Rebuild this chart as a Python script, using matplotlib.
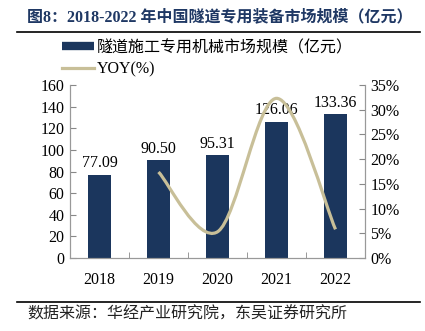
import matplotlib
matplotlib.use("Agg")
import matplotlib.pyplot as plt
from matplotlib.path import Path
from matplotlib.patches import PathPatch
from matplotlib.lines import Line2D
import numpy as np

plt.rcParams['font.family'] = ['Liberation Serif', 'Noto Sans CJK SC', 'DejaVu Sans']

years = ["2018", "2019", "2020", "2021", "2022"]
market = [77.09, 90.50, 95.31, 126.06, 133.36]
yoy_years = ["2019", "2020", "2021", "2022"]
yoy = [17.4, 5.3, 32.3, 5.8]

BAR = "#1b365d"
LINE = "#c8bf98"
TITLE = "#1f3864"
FS = 11.5

W, H = 425, 331
fig = plt.figure(figsize=(W / 100, H / 100), dpi=100)
ax = fig.add_axes([70 / W, 1 - 258 / H, 295 / W, 173 / H])
ax2 = ax.twinx()

x = np.arange(len(years))
ax.bar(x, market, width=0.4, color=BAR, zorder=2)
for xi, v in zip(x, market):
    ax.text(xi, v + 3, f"{v:.2f}", ha="center", va="bottom", fontsize=FS)

ax.set_xlim(-0.5, len(years) - 0.5)
ax.set_ylim(0, 160)
ax.set_yticks(range(0, 161, 20))
ax.set_xticks(x)
ax.set_xticklabels(years, fontsize=FS)
ax.set_xticks(np.arange(0.5, len(years) - 1, 1), minor=True)
ax.tick_params(axis="x", which="major", length=0, pad=10)
ax.tick_params(axis="x", which="minor", direction="in", length=4, color="#888888")
ax.tick_params(axis="y", direction="in", length=4, color="#888888", labelsize=FS, pad=4)

ax2.set_ylim(0, 35)
ax2.set_yticks(range(0, 36, 5))
ax2.set_yticklabels([f"{t}%" for t in range(0, 36, 5)])
ax2.tick_params(axis="y", direction="in", length=4, color="#888888", labelsize=FS, pad=4)

for a in (ax, ax2):
    a.spines["top"].set_visible(False)
    for s in ("left", "right", "bottom"):
        a.spines[s].set_color("#999999")

# smoothed YOY line (Excel-style bezier through the points)
px = np.array([years.index(y) for y in yoy_years], dtype=float)
pts = np.column_stack([px, yoy])
verts = [tuple(pts[0])]
codes = [Path.MOVETO]
n = len(pts)
for i in range(n - 1):
    p0 = pts[i - 1] if i > 0 else pts[i]
    p1 = pts[i]
    p2 = pts[i + 1]
    p3 = pts[i + 2] if i + 2 < n else pts[i + 1]
    c1 = p1 + (p2 - p0) / 6
    c2 = p2 - (p3 - p1) / 6
    verts += [tuple(c1), tuple(c2), tuple(p2)]
    codes += [Path.CURVE4] * 3
ax2.add_patch(PathPatch(Path(verts, codes), facecolor="none", edgecolor=LINE,
                        lw=2.3, capstyle="butt", zorder=3))

# legend
handles = [Line2D([], [], color=BAR, lw=6, solid_capstyle="butt"),
           Line2D([], [], color=LINE, lw=2.3)]
labels = ["隧道施工专用机械市场规模（亿元）", "YOY(%)"]
fig.legend(handles, labels, loc="upper left", bbox_to_anchor=(62 / W, 1 - 40 / H),
           frameon=False, fontsize=FS, handlelength=2.0, handletextpad=0.2,
           labelspacing=0.35, borderaxespad=0, borderpad=0)

# title, rules and source
fig.text(27 / W, 1 - 17 / H, "图8：2018-2022 年中国隧道专用装备市场规模（亿元）",
         fontsize=FS, fontweight="bold", color=TITLE, va="center", ha="left")
fig.add_artist(Line2D([17 / W, 420 / W], [1 - 32 / H, 1 - 32 / H], color="black", lw=1.2))
fig.add_artist(Line2D([17 / W, 420 / W], [1 - 302 / H, 1 - 302 / H], color="black", lw=1.2))
fig.text(27 / W, 1 - 314 / H, "数据来源：华经产业研究院，东吴证券研究所",
         fontsize=FS, color="#222222", va="center", ha="left")

fig.savefig("out.png", dpi=100)
